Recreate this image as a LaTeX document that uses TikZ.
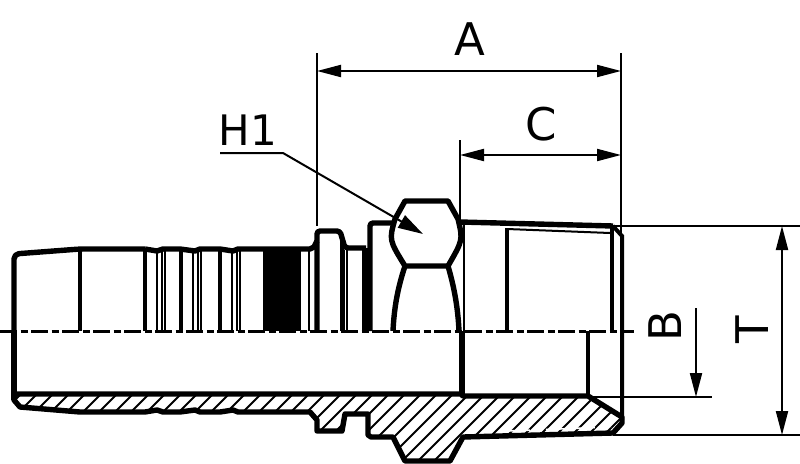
\documentclass[tikz,border=0pt]{standalone}
\usepackage{fontspec}
\setmainfont{DejaVu Sans}
\usetikzlibrary{arrows.meta}

\tikzset{
  thickline/.style={line width=5.4pt,line join=round},
  midline/.style={line width=4pt},
  thinline/.style={line width=2pt},
  centerline/.style={line width=3pt,dash pattern=on 17pt off 3.5pt on 7pt off 3.5pt},
  dimline/.style={line width=2pt,{Triangle[length=24pt,width=12pt]}-{Triangle[length=24pt,width=12pt]}},
  dimlabel/.style={font=\fontsize{45}{45}\selectfont,inner sep=0pt}
}
\newcommand{\sectionoutline}{(14,394) -- (14,400) -- (20,407) -- (80,412) -- (145,412)
  -- (157,410) -- (163,412) -- (180,412) -- (195,410) -- (200,412) -- (220,412) -- (233,410)
  -- (238,412) -- (310,412) -- (317,420) -- (317,431) -- (342,431) -- (345,414) -- (368,414)
  -- (368,435) -- (371,437) -- (393,437) -- (405,461) -- (450,461) -- (463,437) -- (613,433)
  -- (622,423) -- (622,417) -- (588,396) -- (463,396) -- (461,394) -- cycle}

\begin{document}
\begin{tikzpicture}[x=1pt,y=-1pt]
  \useasboundingbox (0,0) rectangle (800,463);
  % section hatching
  \begin{scope}
    \clip \sectionoutline;
    \foreach \h in {-64,-48,...,660}
      \draw[thinline] (\h,463) -- (\h+70,393);
  \end{scope}
  \draw[white,line width=1.6pt,dash pattern=on 10pt off 3pt] (507,431) -- (611,427);
  % outline
  \draw[thickline] \sectionoutline;
  \draw[thickline] (14,331) -- (14,400);
  \draw[thickline,rounded corners=5pt] (14,331) -- (14,254) -- (80,249) -- (145,249);
  \draw[thickline] (145,249) -- (157,251) -- (163,249) -- (180,249) -- (195,251) -- (200,249)
    -- (220,249) -- (233,251) -- (238,249) -- (310,249) -- (314,247) -- (317,241);
  \draw[thickline,rounded corners=3pt] (317,331) -- (317,231) -- (340,231) -- (345,248) -- (366,248);
  \draw[thickline,rounded corners=3pt] (370,331) -- (370,223) -- (393,223);
  \draw[midline] (366,248) -- (366,331);
  % sleeve grooves
  \foreach \x in {145,181,219.5,80}
    \draw[midline] (\x,249) -- (\x,331);
  \foreach \x in {157,162,165,193,198,201,232,237,240,309,344,347,363}
    \draw[thinline] (\x,250) -- (\x,331);
  \draw[midline] (342,240) -- (342,331);
  \fill (263,247) rectangle (301,331);
  % hex nut
  \draw[thickline] (405,201) -- (448,201) -- (458,219) .. controls (463,240) .. (448,266)
    -- (405,266) .. controls (389,240) .. (395,219) -- cycle;
  \draw[thickline] (405,266) .. controls (397,290) and (394,310) .. (393,331);
  \draw[thickline] (448,266) .. controls (455,290) and (458,310) .. (459,331);
  % thread end
  \draw[thinline] (464,222) -- (464,331);
  \draw[thickline] (460,222) -- (613,226);
  \draw[midline] (613,226) -- (622,236) -- (622,420);
  \draw[line width=5.4pt] (462,331) -- (462,396);
  \draw[midline] (507,228) -- (507,331);
  \draw[line width=4.6pt] (612,228) -- (612,331);
  \draw[midline] (588,331) -- (588,396);
  \draw[thinline] (507,229) -- (610,233);
  % center line
  \draw[centerline] (0,331) -- (634,331);
  % dimensions
  \coordinate (a1) at (317,71);
  \coordinate (a2) at (621,71);
  \coordinate (c1) at (460,155);
  \coordinate (c2) at (621,155);
  \coordinate (t1) at (782,226);
  \coordinate (t2) at (782,435);
  \coordinate (b1) at (696,308);
  \coordinate (b2) at (696,397);
  \draw[thinline] (317,53) -- (317,226);
  \draw[thinline] (621,53) -- (621,236);
  \draw[thinline] (460,140) -- (460,220);
  \draw[thinline] (613,226) -- (800,226);
  \draw[thinline] (613,435) -- (800,435);
  \draw[thinline] (588,397) -- (712,397);
  \draw[dimline] (a1) -- (a2);
  \draw[dimline] (c1) -- (c2);
  \draw[dimline] (t1) -- (t2);
  \draw[dimline,{Triangle[length=24pt,width=12pt]}-] (b2) -- (b1);
  \node[dimlabel] (lblA) at (470,39) {A};
  \node[dimlabel] (lblC) at (541,124) {C};
  \node[dimlabel,font=\fontsize{42}{42}\selectfont] (lblH) at (248,130) {H1};
  \node[dimlabel,rotate=90] (lblB) at (665,326) {B};
  \node[dimlabel,rotate=90] (lblT) at (752,330) {T};
  % leader
  \coordinate (h1) at (220,153);
  \coordinate (h2) at (283,153);
  \coordinate (h3) at (423,234);
  \draw[thinline,-{Triangle[length=25pt,width=14pt]}] (h1) -- (h2) -- (h3);
\end{tikzpicture}
\end{document}
